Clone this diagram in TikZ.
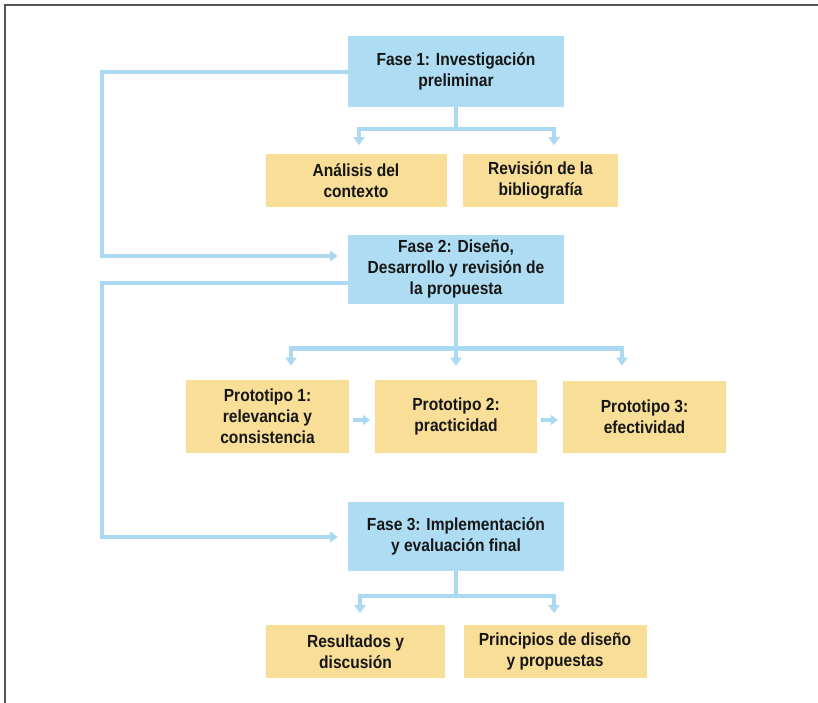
\documentclass[tikz,border=0pt]{standalone}
\usepackage{fontspec}
\setmainfont[FakeStretch=0.89]{Liberation Sans}
\usetikzlibrary{arrows.meta,calc}
\definecolor{boxblue}{HTML}{AEDDF3}
\definecolor{lineblue}{HTML}{AAD9F1}
\definecolor{boxyellow}{HTML}{F9DE98}
\definecolor{txt}{HTML}{161616}
\definecolor{framegray}{HTML}{555555}
\tikzset{
  phase/.style={fill=boxblue, inner sep=0pt, align=center, text=txt,
    font=\fontsize{17.5}{21}\selectfont\bfseries},
  item/.style={fill=boxyellow, inner sep=0pt, align=center, text=txt,
    font=\fontsize{17.5}{21}\selectfont\bfseries},
  link/.style={draw=lineblue, line width=4.5pt},
  arr/.style={draw=lineblue, line width=4.5pt, -{Triangle[width=11pt,length=8pt]}},
  smallarr/.style={draw=lineblue, line width=4pt, -{Triangle[width=10pt,length=7pt]}}
}
\begin{document}
\begin{tikzpicture}[x=1pt,y=-1pt]
\useasboundingbox (0,0) rectangle (818,703);
% frame
\draw[framegray, line width=2pt] (5,703) -- (5,5) -- (818,5);

% nodes
\node[phase, minimum width=216pt, minimum height=71pt] (f1) at (456,71.5) {Fase 1: Investigación\\preliminar};
\node[item, minimum width=181pt, minimum height=53pt] (an) at (356,180.5) {Análisis del\\contexto};
\node[item, minimum width=155pt, minimum height=53pt] (rb) at (540.5,180.5) {Revisión de la\\bibliografía};
\node[phase, minimum width=216pt, minimum height=69pt] (f2) at (456,269) {Fase 2: Diseño,\\Desarrollo y revisión de\\la propuesta};
\node[item, minimum width=163pt, minimum height=73pt] (p1) at (267.5,416.5) {Prototipo 1:\\relevancia y\\consistencia};
\node[item, minimum width=162pt, minimum height=73pt] (p2) at (456,416.5) {Prototipo 2:\\practicidad};
\node[item, minimum width=163pt, minimum height=72pt] (p3) at (644.5,417) {Prototipo 3:\\efectividad};
\node[phase, minimum width=216pt, minimum height=69pt] (f3) at (456,536.5) {Fase 3: Implementación\\y evaluación final};
\node[item, minimum width=179pt, minimum height=53pt] (rs) at (355.5,651.5) {Resultados y\\discusión};
\node[item, minimum width=183pt, minimum height=53pt] (pr) at (555,651.5) {Principios de diseño\\y propuestas};

% feedback loops on the left
\coordinate (l1) at (102,72);
\coordinate (l2) at (102,283);
\draw[arr] (f1.west |- l1) -- (l1) |- ($(f2.west |- 0,256)+(-10,0)$);
\draw[arr] (f2.west |- l2) -- (l2) |- ($(f3.west |- 0,537)+(-10,0)$);

% Fase 1 branches
\coordinate (b1) at ($(f1.south)+(0,22)$);
\draw[link] (f1.south) -- (b1);
\draw[arr] ($(b1)+(2,0)$) -| ($(b1)+(-97,16)$);
\draw[arr] ($(b1)+(-2,0)$) -| ($(b1)+(98,16)$);

% Fase 2 branches
\coordinate (b2) at ($(f2.south)+(0,45)$);
\draw[link] (f2.south) -- (b2);
\draw[arr] ($(b2)+(2,0)$) -| ($(b2)+(-165,17)$);
\draw[arr] ($(b2)+(-2,0)$) -| ($(b2)+(166,17)$);
\draw[arr] (b2) -- ($(b2)+(0,17)$);

% prototype sequence
\draw[smallarr] ($(p1.east |- 0,420)+(4,0)$) -- ($(p2.west |- 0,420)+(-5,0)$);
\draw[smallarr] ($(p2.east |- 0,420)+(4,0)$) -- ($(p3.west |- 0,420)+(-5,0)$);

% Fase 3 branches
\coordinate (b3) at ($(f3.south)+(0,25)$);
\draw[link] (f3.south) -- (b3);
\draw[arr] ($(b3)+(2,0)$) -| ($(b3)+(-96,17)$);
\draw[arr] ($(b3)+(-2,0)$) -| ($(b3)+(98,17)$);
\end{tikzpicture}
\end{document}
